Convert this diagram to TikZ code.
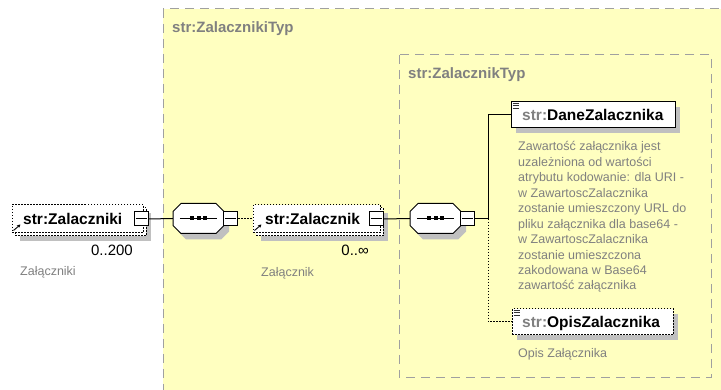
\documentclass[tikz,border=0pt]{standalone}
\usepackage{fontspec}
\setmainfont{Liberation Sans}
\usetikzlibrary{calc,shadows,arrows.meta}
\definecolor{yel}{RGB}{255,255,192}
\definecolor{frame}{RGB}{160,160,160}
\definecolor{shd}{RGB}{192,192,192}
\definecolor{gtext}{RGB}{128,128,128}
\definecolor{ink}{RGB}{0,0,0}
\tikzset{
  container/.style={draw=frame, fill=yel, line width=1pt, dash pattern=on 9pt off 6pt},
  titletext/.style={text=gtext, font=\fontsize{15}{18}\selectfont\bfseries, inner sep=0, anchor=base west},
  lbl/.style={text=ink, font=\fontsize{15.5}{18}\selectfont\bfseries, inner sep=0, anchor=base west},
  card/.style={text=ink, font=\fontsize{15}{18}\selectfont, inner sep=0, anchor=base east},
  anno/.style={text=gtext, font=\fontsize{12.5}{15.45}\selectfont, inner sep=0, anchor=base west, align=left},
  dotborder/.style={dash pattern=on 1.5pt off 1.5pt},
  elembox/.style={rectangle, draw=ink, fill=white, line width=1pt, inner sep=0},
  dropsh/.style={drop shadow={shadow xshift=#1, shadow yshift=-#1, fill=shd, opacity=1, draw=none}},
  multish/.style={copy shadow={shadow xshift=3pt, shadow yshift=-3pt, draw=ink, fill=white, dash pattern=on 1.5pt off 1.5pt, line width=1pt}},
  minusbox/.style={rectangle, draw=ink, fill=white, line width=1pt, inner sep=0, minimum width=14pt, minimum height=14pt},
  seqanchor/.style={rectangle, draw=none, inner sep=0, minimum width=51pt, minimum height=30pt},
  conn/.style={draw=ink, line width=1pt},
  conndot/.style={draw=ink, line width=1pt, dash pattern=on 1.5pt off 1.5pt},
  dots/.style={fill=ink, draw=none},
  refarrow/.style={draw=ink, line width=0.9pt, -{Stealth[length=3.5pt,width=3.5pt]}},
  iconline/.style={draw=ink!80, line width=1pt}
}
\newcommand\seqshape[2]{%
  \fill[shd, shift={(#1+5,#2+6)}] (-17.5,-15) -- (17.5,-15) -- (25.5,-7) -- (25.5,7) -- (17.5,15) -- (-17.5,15) -- (-25.5,7) -- (-25.5,-7) -- cycle;
  \draw[conn, fill=white, shift={(#1,#2)}] (-17.5,-15) -- (17.5,-15) -- (25.5,-7) -- (25.5,7) -- (17.5,15) -- (-17.5,15) -- (-25.5,7) -- (-25.5,-7) -- cycle;
}
\begin{document}
\begin{tikzpicture}[x=1pt,y=-1pt]
\useasboundingbox (0,0) rectangle (721,390);
\clip (0,0) rectangle (721,390);
\fill[white] (0,0) rectangle (721,390);
% containers
\draw[container] (163,9) rectangle (745,410);
\node[titletext] (t1) at (172,33) {str:ZalacznikiTyp};
\draw[container] (399,55) rectangle (711,378);
\node[titletext] (t2) at (408,79) {str:ZalacznikTyp};

% element Zalaczniki
\node[elembox, dotborder, dropsh=8pt, multish, minimum width=131pt, minimum height=28pt] (zk) at (77.5,219) {};
\node[lbl] (zkt) at (23,225) {str:Zalaczniki};
\node[minusbox] (zkm) at (141,219) {};
\draw[conn] ($(zkm.west)+(2,0)$) -- ($(zkm.east)+(-2,0)$);
\draw[refarrow] ($(zk.south west)+(2,-3)$) -- ($(zk.south west)+(9,-9)$);
\node[card] (zkc) at (133,256) {0..200};
\node[anno] (zkd) at (20,276) {Załączniki};

% sequence 1
\seqshape{198.5}{218.5}
\node[seqanchor] (s1) at (198.5,218.5) {};
\draw[conn] ($(s1.west)+(7,0)$) -- ($(s1.east)+(-7,0)$);
\fill[dots] ($(s1.center)+(-8.5,-2)$) rectangle ++(4,4);
\fill[dots] ($(s1.center)+(-2,-2)$) rectangle ++(4,4);
\fill[dots] ($(s1.center)+(4.5,-2)$) rectangle ++(4,4);
\node[minusbox] (s1m) at (230.5,219) {};
\draw[conn] ($(s1m.west)+(2,0)$) -- ($(s1m.east)+(-2,0)$);

% element Zalacznik
\node[elembox, dotborder, dropsh=8pt, multish, minimum width=127pt, minimum height=28pt] (zn) at (316.5,219) {};
\node[lbl] (znt) at (265,225) {str:Zalacznik};
\node[minusbox] (znm) at (376,219) {};
\draw[conn] ($(znm.west)+(2,0)$) -- ($(znm.east)+(-2,0)$);
\draw[refarrow] ($(zn.south west)+(2,-3)$) -- ($(zn.south west)+(9,-9)$);
\node[card] (znc) at (369,256) {0..∞};
\node[anno] (znd) at (261,277) {Załącznik};

% sequence 2
\seqshape{435.5}{218.5}
\node[seqanchor] (s2) at (435.5,218.5) {};
\draw[conn] ($(s2.west)+(7,0)$) -- ($(s2.east)+(-7,0)$);
\fill[dots] ($(s2.center)+(-8.5,-2)$) rectangle ++(4,4);
\fill[dots] ($(s2.center)+(-2,-2)$) rectangle ++(4,4);
\fill[dots] ($(s2.center)+(4.5,-2)$) rectangle ++(4,4);
\node[minusbox] (s2m) at (467.5,219) {};
\draw[conn] ($(s2m.west)+(2,0)$) -- ($(s2m.east)+(-2,0)$);

% element DaneZalacznika
\node[elembox, dropsh=5pt, minimum width=164pt, minimum height=26pt] (dane) at (593,115) {};
\node[lbl] (danet) at (522,121) {{\color{gtext}str:}DaneZalacznika};
\draw[iconline] ($(dane.north west)+(2,2)$) -- ++(6,0);
\draw[iconline] ($(dane.north west)+(2,4.5)$) -- ++(6,0);
\draw[iconline] ($(dane.north west)+(2,7)$) -- ++(6,0);
\node[anno, anchor=north west] (daned) at (518,141.5) {Zawartość załącznika jest\\uzależniona od wartości\\atrybutu kodowanie: dla URI -\\w ZawartoscZalacznika\\zostanie umieszczony URL do\\pliku załącznika dla base64 -\\w ZawartoscZalacznika\\zostanie umieszczona\\zakodowana w Base64\\zawartość załącznika};

% element OpisZalacznika
\node[elembox, dotborder, dropsh=5pt, minimum width=161pt, minimum height=26pt] (opis) at (592.5,322) {};
\node[lbl] (opist) at (522,328) {{\color{gtext}str:}OpisZalacznika};
\draw[iconline] ($(opis.north west)+(2,2)$) -- ++(6,0);
\draw[iconline] ($(opis.north west)+(2,4.5)$) -- ++(6,0);
\draw[iconline] ($(opis.north west)+(2,7)$) -- ++(6,0);
\node[anno] (opisd) at (518,358) {Opis Załącznika};

% connectors
\coordinate (j) at (488,219);
\draw[conn] (zkm.east) -- (s1.west);
\draw[conndot] (s1m.east) -- (zn.west);
\draw[conn] (znm.east) -- (s2.west);
\draw[conn] (s2m.east) -- (j) |- (dane.west);
\draw[conndot] (j) |- (opis.west);
\end{tikzpicture}
\end{document}
